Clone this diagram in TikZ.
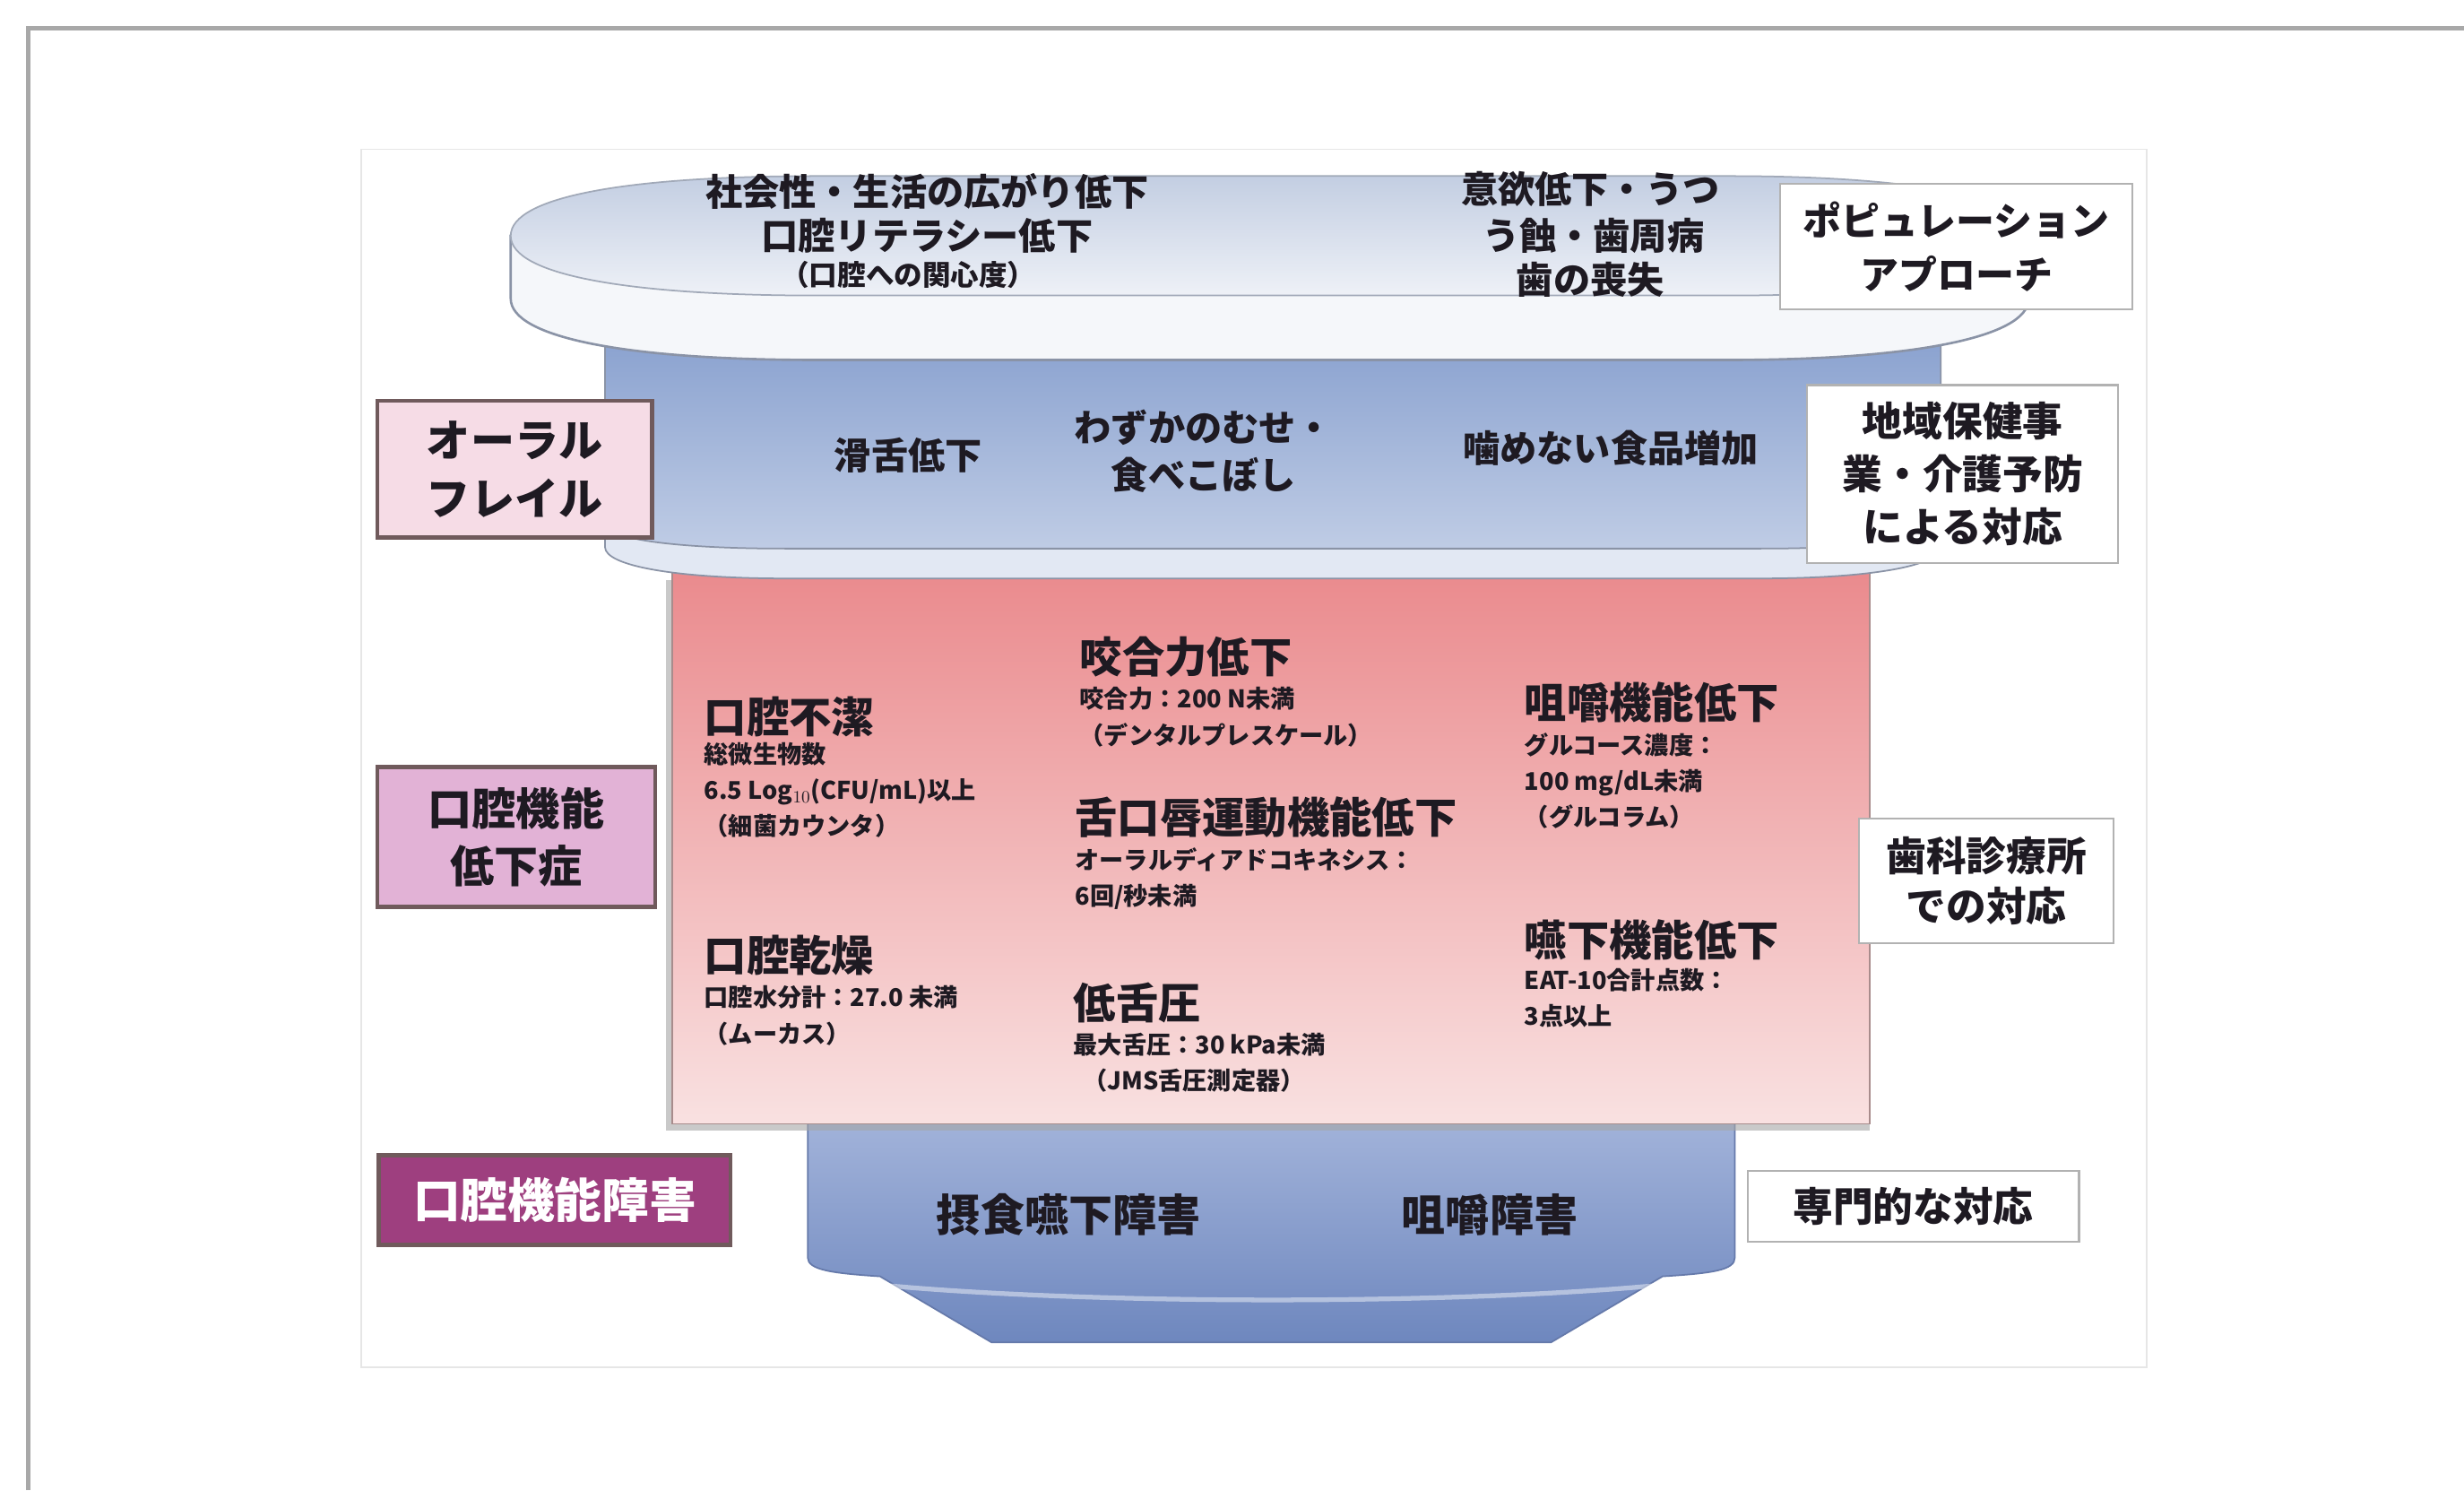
\documentclass[tikz,border=0pt]{standalone}
\usepackage{fontspec}
\setmainfont{Noto Sans CJK JP}
\definecolor{frame}{HTML}{A8A8A8}
\definecolor{inframe}{HTML}{E6E6E6}
\definecolor{discTop}{HTML}{C3CEE2}
\definecolor{discBot}{HTML}{EEF1F7}
\definecolor{discEdge}{HTML}{8A93A6}
\definecolor{bandTop}{HTML}{849DCD}
\definecolor{bandBot}{HTML}{BFCCE5}
\definecolor{rim}{HTML}{E2E8F3}
\definecolor{pinkTop}{HTML}{EA8A8D}
\definecolor{pinkBot}{HTML}{F9E1E1}
\definecolor{pinkEdge}{HTML}{A88C8C}
\definecolor{funTop}{HTML}{A2B3DA}
\definecolor{funBot}{HTML}{6E87BE}
\definecolor{funEdge}{HTML}{6579AA}
\definecolor{lblEdge}{HTML}{705A5C}
\definecolor{frailFill}{HTML}{F6DCE6}
\definecolor{mciFill}{HTML}{E2B2D6}
\definecolor{dysFill}{HTML}{9E3F7F}
\definecolor{txt}{HTML}{1E1A22}
\tikzset{
  toptxt/.style={inner sep=0pt, text=txt, font=\bfseries\fontsize{23.5}{28}\selectfont},
  bandtxt/.style={inner sep=0pt, text=txt, align=center, font=\bfseries\fontsize{23.5}{30}\selectfont},
  hd/.style={anchor=west, inner sep=0pt, text=txt, font=\bfseries\fontsize{27}{32}\selectfont},
  sm/.style={anchor=north west, inner sep=0pt, text=txt, align=left, font=\bfseries\fontsize{15.5}{23}\selectfont},
  leftlbl/.style={draw=lblEdge, line width=2.5pt, inner sep=0pt, align=center, text=txt,
    font=\bfseries\fontsize{28}{37}\selectfont},
  rightlbl/.style={draw=black!30, fill=white, line width=1.2pt, inner sep=0pt, align=center, text=txt,
    font=\bfseries\fontsize{25.5}{33.5}\selectfont},
}
\begin{document}
\begin{tikzpicture}[x=1pt, y=-1pt]
\useasboundingbox (0,0) rectangle (1568,948);
\fill[white] (0,0) rectangle (1568,948);
% outer frame
\draw[frame, line width=3pt] (18,948) -- (18,18) -- (1568,18);
% inner image frame
\draw[inframe, line width=1pt] (230,95) rectangle (1366,870);

% bottom funnel (oral dysfunction)
\draw[funEdge, line width=1pt, top color=funTop, bottom color=funBot]
  (514,712) -- (514,800) .. controls (514,808) and (530,810) .. (560,812)
  -- (631,854) -- (987,854) -- (1058,812) .. controls (1090,810) and (1104,808) .. (1104,800)
  -- (1104,712) -- cycle;
\draw[white, opacity=0.45, line width=3pt] (566,818) .. controls (700,830) and (920,830) .. (1052,818);

% pink box (oral hypofunction)
\fill[black!35, opacity=0.6] (424,369) rectangle (1190,719);
\draw[pinkEdge, line width=1pt, top color=pinkTop, bottom color=pinkBot] (428,362) rectangle (1190,715);

% oral frail band (second cylinder)
\draw[discEdge, line width=1pt, fill=rim]
  (385,330) -- (385,348) .. controls (385,360) and (430,368) .. (500,368) -- (1120,368)
  .. controls (1190,368) and (1235,360) .. (1235,348) -- (1235,330) -- cycle;
\draw[discEdge, line width=1pt, top color=bandTop, bottom color=bandBot]
  (385,200) -- (385,333) .. controls (385,343) and (430,349) .. (500,349) -- (1120,349)
  .. controls (1190,349) and (1235,343) .. (1235,333) -- (1235,200) -- cycle;

% top disc (population approach)
\draw[discEdge, line width=1.5pt, fill=discBot!60!white]
  (325,150) -- (325,190) .. controls (325,215) and (400,229) .. (520,229) -- (1100,229)
  .. controls (1215,229) and (1291,215) .. (1291,190) -- (1291,150) -- cycle;
\draw[discEdge!80, line width=1pt, top color=discTop, bottom color=discBot]
  (325,150) .. controls (325,125) and (400,112) .. (520,112) -- (1100,112)
  .. controls (1215,112) and (1291,125) .. (1291,150)
  .. controls (1291,175) and (1215,188) .. (1100,188) -- (520,188)
  .. controls (400,188) and (325,175) .. (325,150) -- cycle;

% texts on top disc
\node[toptxt] (t1) at (590,122) {社会性・生活の広がり低下};
\node[toptxt] (t2) at (590,150) {口腔リテラシー低下};
\node[toptxt, font=\bfseries\fontsize{18}{22}\selectfont] (t3) at (578,175) {（口腔への関心度）};
\node[toptxt] (t4) at (1012,120) {意欲低下・うつ};
\node[toptxt] (t5) at (1014,150) {う蝕・歯周病};
\node[toptxt] (t6) at (1012,178) {歯の喪失};

% texts on oral frail band
\node[bandtxt] (b1) at (578,290) {滑舌低下};
\node[bandtxt] (b2) at (766,287) {わずかのむせ・\\食べこぼし};
\node[bandtxt] (b3) at (1025,285) {噛めない食品増加};

% texts in pink box
\node[hd] (h1) at (448,456) {口腔不潔};
\node[sm] (s1) at (448,472) {総微生物数\\6.5 Log$_{10}$(CFU/mL)以上\\（細菌カウンタ）};
\node[hd] (h2) at (448,608) {口腔乾燥};
\node[sm] (s2) at (448,627) {口腔水分計：27.0 未満\\（ムーカス）};
\node[hd] (h3) at (687,418) {咬合力低下};
\node[sm] (s3) at (687,437) {咬合力：200 N未満\\（デンタルプレスケール）};
\node[hd] (h4) at (684,520) {舌口唇運動機能低下};
\node[sm] (s4) at (684,539) {オーラルディアドコキネシス：\\6回/秒未満};
\node[hd] (h5) at (683,638) {低舌圧};
\node[sm] (s5) at (683,657) {最大舌圧：30 kPa未満\\\hspace*{6pt}（JMS舌圧測定器）};
\node[hd] (h6) at (970,447) {咀嚼機能低下};
\node[sm] (s6) at (970,466) {グルコース濃度：\\100 mg/dL未満\\（グルコラム）};
\node[hd] (h7) at (970,598) {嚥下機能低下};
\node[sm] (s7) at (970,616) {EAT-10合計点数：\\3点以上};

% texts in funnel
\node[bandtxt, font=\bfseries\fontsize{28}{32}\selectfont] (f1) at (680,773) {摂食嚥下障害};
\node[bandtxt, font=\bfseries\fontsize{28}{32}\selectfont] (f2) at (948,773) {咀嚼障害};

% left labels
\node[leftlbl, fill=frailFill, minimum width=175pt, minimum height=87pt] (frail) at (327.5,298.5) {オーラル\\フレイル};
\node[leftlbl, fill=mciFill, minimum width=177pt, minimum height=89pt] (mci) at (328.5,532.5) {口腔機能\\低下症};
\node[leftlbl, fill=dysFill, text=white, minimum width=224pt, minimum height=57pt,
  font=\bfseries\fontsize{30}{34}\selectfont] (dys) at (353,763.5) {口腔機能障害};

% right labels
\node[rightlbl, minimum width=224pt, minimum height=80pt, font=\bfseries\fontsize{24.5}{34}\selectfont] (pop) at (1245,157) {ポピュレーション\\アプローチ};
\node[rightlbl, minimum width=198pt, minimum height=113pt] (comm) at (1249,301.5) {地域保健事\\業・介護予防\\による対応};
\node[rightlbl, minimum width=162pt, minimum height=79pt, font=\bfseries\fontsize{25.5}{32}\selectfont] (dent) at (1264,560.5) {歯科診療所\\での対応};
\node[rightlbl, minimum width=211pt, minimum height=45pt] (spec) at (1217.5,767.5) {専門的な対応};
\end{tikzpicture}
\end{document}
